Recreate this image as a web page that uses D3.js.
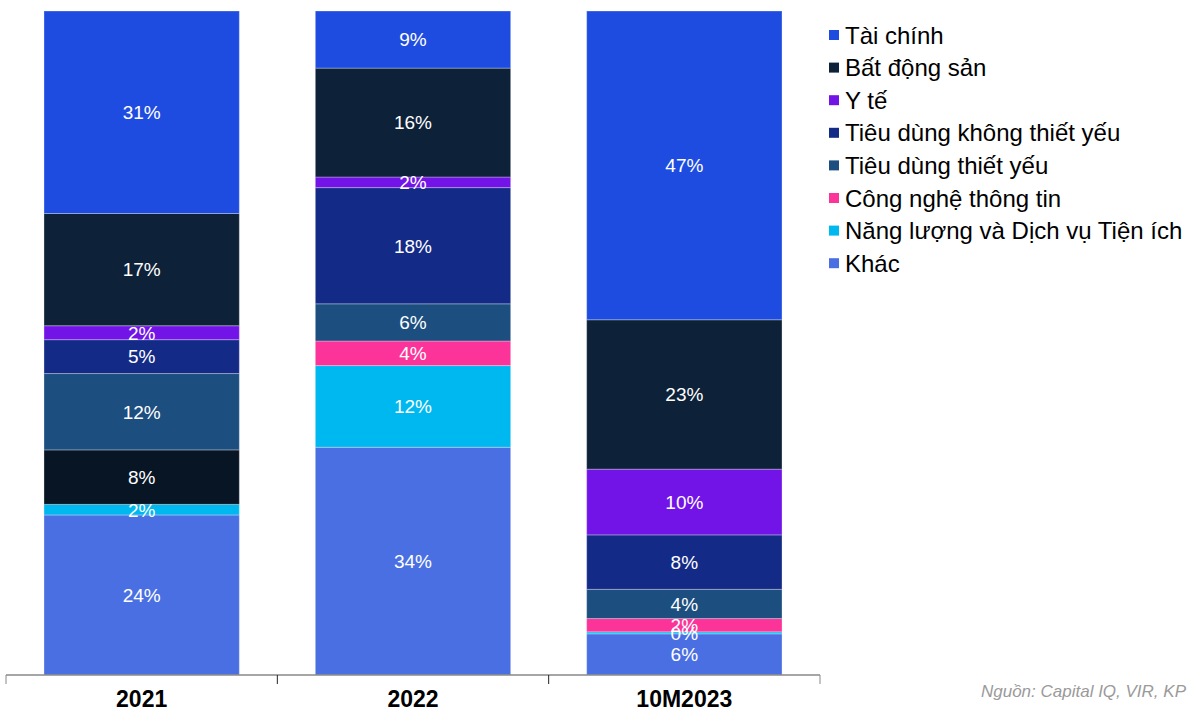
<!DOCTYPE html>
<html>
<head>
<meta charset="utf-8">
<script src="https://cdn.jsdelivr.net/npm/d3@7"></script>
<style>
  html, body { margin: 0; padding: 0; background: #fff; }
  svg { display: block; font-family: "Liberation Sans", Arial, sans-serif; }
</style>
</head>
<body>
<svg id="chart" width="1188" height="711"></svg>
<script>
// ---- Data ----
const categories = ["2021", "2022", "10M2023"];
// series from bottom to top of the stack
const seriesNames = ["Khác", "Năng lượng và Dịch vụ Tiện ích", "Ngành khác", "Công nghệ thông tin",
  "Tiêu dùng thiết yếu", "Tiêu dùng không thiết yếu", "Y tế", "Bất động sản", "Tài chính"];
const khac        = [24.1, 34.3, 6.2];
const nangLuong   = [1.6, 12.3, 0.3];
const nganhKhac   = [8.2, 0, 0];
const congNghe    = [0, 3.7, 2.0];
const tdThietYeu  = [11.5, 5.6, 4.4];
const tdKhongTY   = [5.1, 17.5, 8.2];
const yTe         = [2.1, 1.6, 9.9];
const batDongSan  = [16.9, 16.4, 22.5];
const taiChinh    = [30.5, 8.6, 46.5];
const seriesValues = [khac, nangLuong, nganhKhac, congNghe, tdThietYeu, tdKhongTY, yTe, batDongSan, taiChinh];
// legend order (top to bottom)
const legendNames = ["Tài chính", "Bất động sản", "Y tế", "Tiêu dùng không thiết yếu",
  "Tiêu dùng thiết yếu", "Công nghệ thông tin", "Năng lượng và Dịch vụ Tiện ích", "Khác"];
const sourceText = "Nguồn: Capital IQ, VIR, KP";

// ---- Styles ----
const colors = {
  "Tài chính": "#1f4ce0",
  "Bất động sản": "#0d2238",
  "Y tế": "#7214e8",
  "Tiêu dùng không thiết yếu": "#142a87",
  "Tiêu dùng thiết yếu": "#1c4e80",
  "Công nghệ thông tin": "#fc3399",
  "Năng lượng và Dịch vụ Tiện ích": "#00b8f0",
  "Ngành khác": "#081525",
  "Khác": "#4a6fe3"
};

const svg = d3.select("#chart");
const margin = { left: 6, right: 368, top: 11, bottom: 36 };
const W = 1188, H = 711;
const plotW = W - margin.left - margin.right; // 814
const plotH = H - margin.top - margin.bottom; // 664

const rows = categories.map((c, i) => {
  const o = { cat: c };
  seriesNames.forEach((s, j) => o[s] = seriesValues[j][i]);
  return o;
});
const stacked = d3.stack().keys(seriesNames)(rows);

const x = d3.scaleBand().domain(categories).range([margin.left, margin.left + plotW]).paddingInner(0.28).paddingOuter(0.14);
const y = d3.scaleLinear().domain([0, 100]).range([margin.top + plotH, margin.top]);

const g = svg.append("g");
stacked.forEach(layer => {
  const key = layer.key;
  layer.forEach((d, i) => {
    if (d[1] - d[0] <= 0) return;
    g.append("rect")
      .attr("x", x(categories[i]))
      .attr("width", x.bandwidth())
      .attr("y", y(d[1]))
      .attr("height", y(d[0]) - y(d[1]))
      .attr("fill", colors[key])
      .attr("stroke", "#ffffff")
      .attr("stroke-opacity", 0.3)
      .attr("stroke-width", 1);
  });
});

// labels
const fmt = v => Math.round(v) + "%";
stacked.forEach(layer => {
  layer.forEach((d, i) => {
    const v = d[1] - d[0];
    if (v <= 0) return;
    g.append("text")
      .attr("x", x(categories[i]) + x.bandwidth() / 2)
      .attr("y", (y(d[0]) + y(d[1])) / 2)
      .attr("dy", "0.36em")
      .attr("text-anchor", "middle")
      .attr("fill", "#ffffff")
      .attr("font-size", 19)
      .text(fmt(v));
  });
});

// axis
const axisY = margin.top + plotH;
svg.append("line").attr("x1", margin.left).attr("x2", margin.left + plotW)
  .attr("y1", axisY).attr("y2", axisY).attr("stroke", "#888").attr("stroke-width", 1.5);
const step = plotW / categories.length;
d3.range(categories.length + 1).forEach(k => {
  const tx = margin.left + k * step;
  svg.append("line").attr("x1", tx).attr("x2", tx).attr("y1", axisY).attr("y2", axisY + 9)
    .attr("stroke", k === 0 || k === categories.length ? "#888" : "#222").attr("stroke-width", 1);
});
categories.forEach(c => {
  svg.append("text")
    .attr("x", x(c) + x.bandwidth() / 2)
    .attr("y", 707)
    .attr("text-anchor", "middle")
    .attr("font-size", 23)
    .attr("font-weight", "bold")
    .attr("fill", "#000")
    .text(c);
});

// legend
const lg = svg.append("g");
legendNames.forEach((n, i) => {
  const ly = 35 + i * 32.6;
  lg.append("rect").attr("x", 829).attr("y", ly - 5).attr("width", 10).attr("height", 10).attr("fill", colors[n]);
  lg.append("text").attr("x", 845).attr("y", ly).attr("dy", "0.36em")
    .attr("font-size", 24).attr("fill", "#000").text(n);
});

// source
svg.append("text").attr("x", 1186).attr("y", 697).attr("text-anchor", "end")
  .attr("font-size", 17).attr("font-style", "italic").attr("fill", "#9a9a9a").text(sourceText);
</script>
</body>
</html>
